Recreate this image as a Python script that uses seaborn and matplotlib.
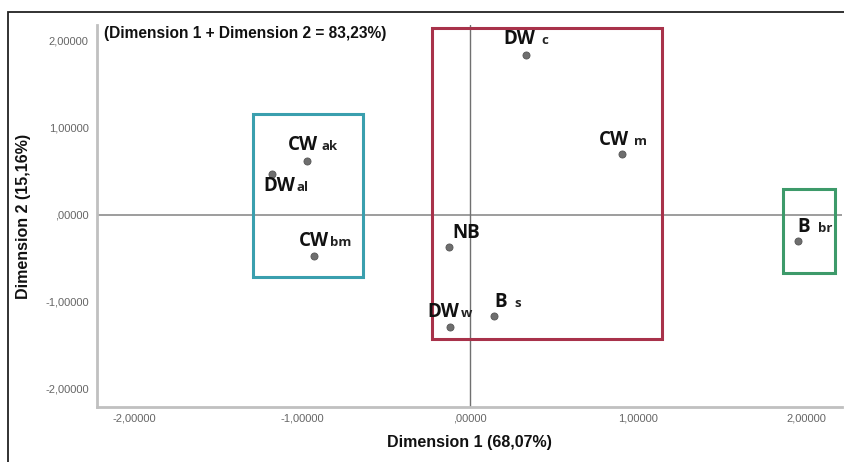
import matplotlib
matplotlib.use("Agg")
import matplotlib.pyplot as plt
from matplotlib.patches import Rectangle
from matplotlib.offsetbox import TextArea, HPacker, AnnotationBbox
import seaborn as sns
import pandas as pd

# Category labels: main part and smaller suffix
label_main = ["DW", "CW", "CW", "DW", "CW", "NB", "DW", "B", "B"]
label_sub = ["c", "m", "ak", "al", "bm", "", "w", "s", "br"]
dim1 = [0.33, 0.90, -0.97, -1.18, -0.93, -0.125, -0.12, 0.14, 1.95]
dim2 = [1.84, 0.70, 0.62, 0.47, -0.48, -0.37, -1.29, -1.16, -0.30]
# label offsets in points (dx, dy) and gap between main part and suffix
label_offsets = [(0, 11), (1, 10), (4, 11), (10, -9), (8, 11), (12, 10), (0, 11), (10, 10), (12, 10)]
label_gaps = [4, 4, 3, 1, 1, 0, 1, 5, 6]

# cluster boxes
box_x0 = [-1.29, -0.23, 1.86]
box_x1 = [-0.64, 1.14, 2.17]
box_y0 = [-0.72, -1.43, -0.67]
box_y1 = [1.16, 2.15, 0.30]
box_colors = ["#3a9fae", "#a8324a", "#3d9a6a"]

xticks = [-2, -1, 0, 1, 2]
yticks = [-2, -1, 0, 1, 2]

sns.set_theme(style="white")
plt.rcParams["font.family"] = ["Liberation Sans", "DejaVu Sans"]

df = pd.DataFrame({"Dimension 1": dim1, "Dimension 2": dim2})

fig = plt.figure(figsize=(8.45, 4.62), dpi=100)
ax = fig.add_axes([97 / 845, 1 - 407 / 462, (842 - 97) / 845, (407 - 25) / 462])

ax.axhline(0, color="#8c8c8c", lw=1.2, zorder=1)
ax.axvline(0, color="#707070", lw=1.0, zorder=1)

for x0, x1, y0, y1, c in zip(box_x0, box_x1, box_y0, box_y1, box_colors):
    ax.add_patch(Rectangle((x0, y0), x1 - x0, y1 - y0, fill=False,
                           edgecolor=c, lw=2.2, zorder=2))

sns.scatterplot(data=df, x="Dimension 1", y="Dimension 2", ax=ax,
                color="#6e6e6e", edgecolor="#555555", linewidth=0.6,
                s=26, zorder=3, legend=False)

for m, s, x, y, (dx, dy), gap in zip(label_main, label_sub, dim1, dim2,
                                     label_offsets, label_gaps):
    parts = [TextArea(m, textprops=dict(fontsize=13.5, fontweight="bold",
                                        family="Open Sans", color="#111111"))]
    if s:
        parts.append(TextArea(s, textprops=dict(fontsize=9.5, fontweight="bold",
                                                family="Open Sans", color="#222222")))
    box = HPacker(children=parts, align="baseline", pad=0, sep=gap)
    ab = AnnotationBbox(box, (x, y), xybox=(dx, dy), xycoords="data",
                        boxcoords="offset points", frameon=False,
                        box_alignment=(0.5, 0.5), zorder=4)
    ax.add_artist(ab)

ax.text(0.009, 0.997, "(Dimension 1 + Dimension 2 = 83,23%)", transform=ax.transAxes,
        fontsize=11.2, fontweight="bold", ha="left", va="top", color="#111111")

ax.set_xlim(-2.22, 2.21)
ax.set_ylim(-2.21, 2.18)
ax.set_xticks(xticks)
ax.set_yticks(yticks)
fmt = lambda v: (",00000" if v == 0 else f"{v:.5f}".replace(".", ","))
ax.set_xticklabels([fmt(v) for v in xticks])
ax.set_yticklabels([fmt(v) for v in yticks])
ax.tick_params(axis="both", length=0, labelsize=8, labelcolor="#666666")
ax.tick_params(axis="x", pad=5)
ax.tick_params(axis="y", pad=6)

ax.set_xlabel("Dimension 1 (68,07%)", fontsize=11.5, fontweight="bold",
              color="#111111", labelpad=8)
ax.set_ylabel("Dimension 2 (15,16%)", fontsize=11.5, fontweight="bold",
              color="#111111", labelpad=10)

for side in ["top", "right"]:
    ax.spines[side].set_visible(False)
for side in ["left", "bottom"]:
    ax.spines[side].set_color("#c0c0c0")
    ax.spines[side].set_linewidth(2)

# outer frame
fig.patches.append(Rectangle((8 / 845, -0.05), 1.2, 1 - 12 / 462 + 0.05,
                             transform=fig.transFigure, fill=False,
                             edgecolor="#222222", lw=1.3))

fig.savefig("out.png", dpi=100)
